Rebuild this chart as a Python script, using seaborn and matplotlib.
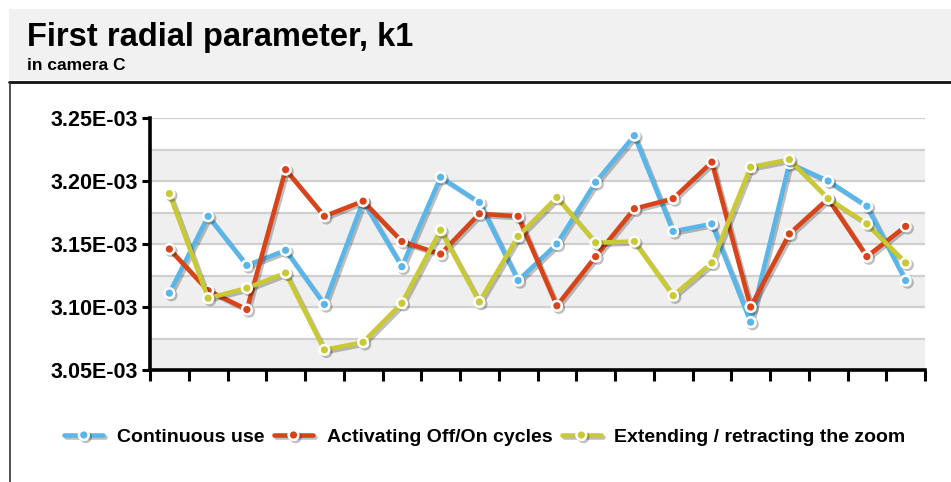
import matplotlib
matplotlib.use("Agg")
import matplotlib.pyplot as plt
import matplotlib.patheffects as pe
from matplotlib.patches import Rectangle
from matplotlib.lines import Line2D
from matplotlib.ticker import FuncFormatter
import numpy as np
import pandas as pd
import seaborn as sns

# ---------------- data ----------------
points = list(range(1, 21))
continuous_use = [3.111e-3, 3.172e-3, 3.133e-3, 3.145e-3, 3.102e-3, 3.184e-3, 3.132e-3,
                  3.203e-3, 3.183e-3, 3.121e-3, 3.150e-3, 3.199e-3, 3.236e-3, 3.160e-3,
                  3.166e-3, 3.088e-3, 3.214e-3, 3.200e-3, 3.180e-3, 3.121e-3]
off_on_cycles = [3.146e-3, 3.113e-3, 3.098e-3, 3.209e-3, 3.172e-3, 3.184e-3, 3.152e-3,
                 3.142e-3, 3.174e-3, 3.172e-3, 3.101e-3, 3.140e-3, 3.178e-3, 3.186e-3,
                 3.215e-3, 3.100e-3, 3.158e-3, 3.186e-3, 3.140e-3, 3.164e-3]
zoom_cycles = [3.190e-3, 3.107e-3, 3.115e-3, 3.127e-3, 3.066e-3, 3.072e-3, 3.103e-3,
               3.161e-3, 3.104e-3, 3.156e-3, 3.187e-3, 3.151e-3, 3.152e-3, 3.109e-3,
               3.135e-3, 3.211e-3, 3.217e-3, 3.186e-3, 3.166e-3, 3.135e-3]
series_names = ["Continuous use", "Activating Off/On cycles", "Extending / retracting the zoom"]
series_colors = ["#5ab6e8", "#d8441a", "#c9c936"]
y_ticks = [3.05e-3, 3.10e-3, 3.15e-3, 3.20e-3, 3.25e-3]
title = "First radial parameter, k1"
subtitle = "in camera C"

df = pd.concat([
    pd.DataFrame({"point": points, "k1": vals, "condition": name})
    for name, vals in zip(series_names, [continuous_use, off_on_cycles, zoom_cycles])
], ignore_index=True)

# ---------------- figure ----------------
sns.set_theme(style="white")
plt.rcParams["font.family"] = ["Liberation Sans", "DejaVu Sans"]
plt.rcParams["text.color"] = "black"
plt.rcParams["ytick.labelcolor"] = "black"

W, H = 951, 482
fig = plt.figure(figsize=(W / 100, H / 100), dpi=100)
fig.patch.set_facecolor("white")

# header band
fig.patches.append(Rectangle((9 / W, 1 - 80 / H), 1 - 9 / W, 71 / H, transform=fig.transFigure,
                             facecolor="#f1f1f1", edgecolor="none", zorder=0))
fig.lines.append(Line2D([9 / W, 1], [1 - 82 / H, 1 - 82 / H], transform=fig.transFigure,
                        color="#111111", lw=2.0))
fig.lines.append(Line2D([9.5 / W, 9.5 / W], [0, 1 - 82 / H], transform=fig.transFigure,
                        color="#333333", lw=1.2))
fig.text(27 / W, 1 - 46 / H, title, fontsize=23.5, fontweight="bold", va="baseline", ha="left",
         color="black")
fig.text(27 / W, 1 - 70 / H, subtitle, fontsize=12.5, fontweight="bold", va="baseline", ha="left",
         color="black")

ax = fig.add_axes([150 / W, 1 - 370 / H, 775 / W, 252 / H])
ax.set_facecolor("white")

# alternating bands and gridlines
for lo in [3.05e-3, 3.10e-3, 3.15e-3, 3.20e-3]:
    ax.axhspan(lo, lo + 0.025e-3, color="#efefef", lw=0, zorder=0)
for g in np.arange(3.075e-3, 3.2501e-3, 0.025e-3):
    ax.axhline(g, color="#d0d0d0", lw=1.6, zorder=1)

sns.lineplot(data=df, x="point", y="k1", hue="condition", palette=series_colors,
             hue_order=series_names, marker="o", markersize=7, markeredgecolor="white",
             markeredgewidth=1.8, linewidth=3.3, ax=ax, zorder=3, legend=True)

for ln in ax.lines:
    if ln.get_marker() == "o":
        ln.set_path_effects([pe.SimpleLineShadow(offset=(1.5, -1.5), shadow_color="black", alpha=0.25),
                             pe.Normal()])

handles, labels = ax.get_legend_handles_labels()
if ax.get_legend() is not None:
    ax.get_legend().remove()

ax.set_xlim(0.5, 20.5)
ax.set_ylim(3.05e-3, 3.25e-3)
ax.set_xticks(np.arange(0.5, 20.6, 1.0))
ax.set_xticklabels([])
ax.set_yticks(y_ticks)
ax.yaxis.set_major_formatter(FuncFormatter(lambda v, p: "{:.2E}".format(v)))
ax.set_xlabel("")
ax.set_ylabel("")
for lab in ax.get_yticklabels():
    lab.set_fontweight("bold")
    lab.set_color("black")
ax.tick_params(axis="y", direction="out", length=6, width=2.2, color="black",
               labelsize=15.5, labelcolor="black", pad=3, left=True)
ax.tick_params(axis="x", direction="out", length=8, width=2.2, color="black", bottom=True)
for s in ["top", "right"]:
    ax.spines[s].set_visible(False)
for s in ["left", "bottom"]:
    ax.spines[s].set_color("black")
    ax.spines[s].set_linewidth(2.6)

leg = fig.legend(handles, labels, loc="center", bbox_to_anchor=(485 / W, 1 - 437 / H), ncol=3,
                 frameon=False, prop={"weight": "bold", "size": 14}, handlelength=2.0,
                 handletextpad=0.7, columnspacing=0.5)
for t in leg.get_texts():
    t.set_color("black")

fig.savefig("out.png", dpi=100)
